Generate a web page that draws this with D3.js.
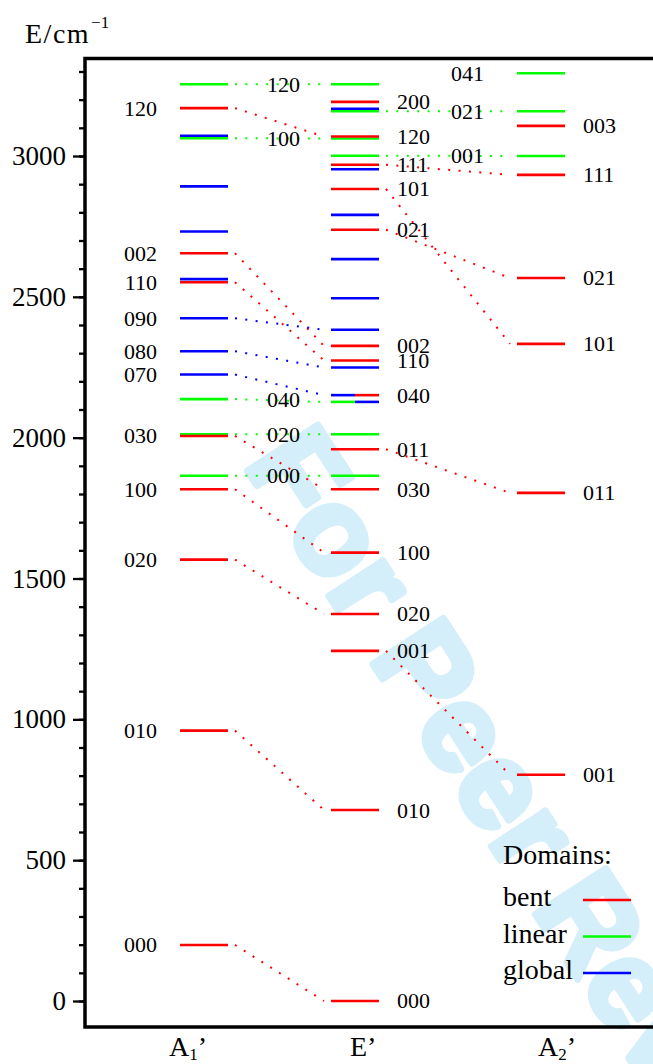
<!DOCTYPE html>
<html><head><meta charset="utf-8">
<script src="https://cdn.jsdelivr.net/npm/d3@7"></script>
<style>body{margin:0;background:#fff;} svg{display:block;}</style>
</head><body>
<svg id="chart" width="653" height="1064"></svg>
<script>
// ---------- data ----------
const categories = ["A1'", "E'", "A2'"];
const domainNames = ["bent", "linear", "global"];
const domainColors = ["#ff0000", "#00ff00", "#0000ff"];

// levels: [energy, domain, label, labelSide, half]
const levelsA1 = [
  [3255, "linear", "120", "mid"],
  [3170, "bent", "120", "left"],
  [3072, "global"],
  [3063, "linear", "100", "mid"],
  [2892, "global"],
  [2732, "global"],
  [2655, "bent", "002", "left"],
  [2563, "global"],
  [2552, "bent", "110", "left"],
  [2424, "global", "090", "left"],
  [2307, "global", "080", "left"],
  [2224, "global", "070", "left"],
  [2137, "linear", "040", "mid"],
  [2012, "linear", "020", "mid"],
  [2006, "bent", "030", "left"],
  [1865, "linear", "000", "mid"],
  [1817, "bent", "100", "left"],
  [1567, "bent", "020", "left"],
  [960, "bent", "010", "left"],
  [199, "bent", "000", "left"]
];
const levelsE = [
  [3255, "linear"],
  [3192, "bent", "200", "right"],
  [3168, "global"],
  [3159, "linear"],
  [3062, "linear"],
  [3069, "bent", "120", "right"],
  [3001, "linear"],
  [2969, "bent", "111", "right"],
  [2953, "global"],
  [2883, "bent", "101", "right"],
  [2791, "global"],
  [2738, "bent", "021", "right"],
  [2634, "global"],
  [2495, "global"],
  [2383, "global"],
  [2326, "bent", "002", "right"],
  [2274, "bent", "110", "right"],
  [2249, "global"],
  [2151, "global", "", "", "L"],
  [2151, "bent", "040", "right", "R"],
  [2127, "linear", "", "", "L"],
  [2127, "global", "", "", "R"],
  [2012, "linear"],
  [1959, "bent", "011", "right"],
  [1865, "linear"],
  [1817, "bent", "030", "right"],
  [1592, "bent", "100", "right"],
  [1374, "bent", "020", "right"],
  [1243, "bent", "001", "right"],
  [678, "bent", "010", "right"],
  [0, "bent", "000", "right"]
];
const levelsA2 = [
  [3294, "linear", "041", "left"],
  [3159, "linear", "021", "left"],
  [3107, "bent", "003", "right"],
  [3000, "linear", "001", "left"],
  [2933, "bent", "111", "right"],
  [2567, "bent", "021", "right"],
  [2333, "bent", "101", "right"],
  [1804, "bent", "011", "right"],
  [803, "bent", "001", "right"]
];
// correlations: [fromEnergy, toEnergy, domain]
const linksA1toE = [
  [3255, 3255, "linear"], [3170, 3069, "bent"], [3063, 3062, "linear"],
  [2655, 2326, "bent"], [2552, 2274, "bent"], [2424, 2383, "global"],
  [2307, 2249, "global"], [2224, 2151, "global"], [2137, 2127, "linear"],
  [2012, 2012, "linear"], [2006, 1817, "bent"], [1865, 1865, "linear"],
  [1817, 1592, "bent"], [1567, 1374, "bent"], [960, 678, "bent"], [199, 0, "bent"]
];
const linksEtoA2 = [
  [3159, 3159, "linear"], [3001, 3000, "linear"], [2969, 2933, "bent"],
  [2883, 2333, "bent"], [2738, 2567, "bent"], [1959, 1804, "bent"], [1243, 803, "bent"]
];
const majorTicks = [0, 500, 1000, 1500, 2000, 2500, 3000];
const minorTicks = [0,100,200,300,400,500,600,700,800,900,1000,1100,1200,1300,1400,1500,1600,1700,1800,1900,2000,2100,2200,2300,2400,2500,2600,2700,2800,2900,3000,3100,3200,3300];
const legendTitle = "Domains:";
const watermarkText = "For Peer Review";

// ---------- layout ----------
const svg = d3.select("#chart");
const serif = "'Liberation Serif','Times New Roman',serif";
const y = d3.scaleLinear().domain([0, 3000]).range([1001, 156]);
const colX = d3.scaleOrdinal().domain(categories).range([180, 331, 517]);
const catLabelX = d3.scaleOrdinal().domain(categories).range([169, 350, 538]);
const leftGap = d3.scaleOrdinal().domain(categories).range([23, 0, 33]);
const barW = 48;
const color = d3.scaleOrdinal().domain(domainNames).range(domainColors);
const frame = {left: 85, top: 58.5, bottom: 1027, right: 700};

// watermark
svg.append("text")
  .attr("transform", "translate(243,464) rotate(57)")
  .attr("font-family", "'Liberation Sans',Arial,sans-serif")
  .attr("font-weight", "bold")
  .attr("font-size", 122)
  .attr("fill", "#d4eefa")
  .attr("stroke", "#d4eefa")
  .attr("stroke-width", 7)
  .attr("stroke-linejoin", "round")
  .text(watermarkText);

// frame
svg.append("path")
  .attr("d", `M${frame.right},${frame.top}H${frame.left}V${frame.bottom}H${frame.right}`)
  .attr("fill", "none").attr("stroke", "#000").attr("stroke-width", 3.5);

// axes
const gMinor = svg.append("g").attr("transform", `translate(${frame.left},0)`)
  .call(d3.axisLeft(y).tickValues(minorTicks).tickSize(6).tickFormat(""));
const gMajor = svg.append("g").attr("transform", `translate(${frame.left},0)`)
  .call(d3.axisLeft(y).tickValues(majorTicks).tickSize(12).tickPadding(7).tickFormat(d3.format("d")));
[gMinor, gMajor].forEach(g => {
  g.select(".domain").remove();
  g.selectAll(".tick line").attr("stroke", "#000").attr("stroke-width", 2.3);
});
gMajor.selectAll(".tick text").attr("font-family", serif).attr("font-size", 27).attr("fill", "#000");

// axis title
const title = svg.append("text").attr("x", 25).attr("y", 43)
  .attr("font-family", serif).attr("font-size", 28).attr("fill", "#000");
title.append("tspan").attr("letter-spacing", 1.5).text("E/cm");
title.append("tspan").attr("font-size", 17).attr("dx", 1).attr("dy", -15).text("\u22121");

// category labels
categories.forEach(c => {
  const t = svg.append("text").attr("x", catLabelX(c)).attr("y", 1056)
    .attr("font-family", serif).attr("font-size", 28).attr("fill", "#000");
  const base = c.replace("'", "");
  t.append("tspan").text(base[0]);
  if (base.length > 1) {
    t.append("tspan").attr("font-size", 17).attr("dy", 4).text(base.slice(1));
    t.append("tspan").attr("dy", -4).text("\u2019");
  } else {
    t.append("tspan").text("\u2019");
  }
});

// correlation lines
function drawLinks(links, fromCat, toCat) {
  svg.append("g").selectAll("line").data(links).join("line")
    .attr("x1", colX(fromCat) + barW + 7)
    .attr("x2", colX(toCat) - 7)
    .attr("y1", d => y(d[0]))
    .attr("y2", d => y(d[1]))
    .attr("stroke", d => color(d[2]))
    .attr("stroke-width", 2)
    .attr("stroke-dasharray", "2,8.4");
}
drawLinks(linksA1toE, categories[0], categories[1]);
drawLinks(linksEtoA2, categories[1], categories[2]);

// levels
const columns = [[categories[0], levelsA1], [categories[1], levelsE], [categories[2], levelsA2]];
columns.forEach(([cat, levels]) => {
  const g = svg.append("g");
  g.selectAll("line").data(levels).join("line")
    .attr("x1", d => colX(cat) + (d[4] === "R" ? barW / 2 : 0))
    .attr("x2", d => colX(cat) + (d[4] === "L" ? barW / 2 : barW))
    .attr("y1", d => y(d[0])).attr("y2", d => y(d[0]))
    .attr("stroke", d => color(d[1]))
    .attr("stroke-width", 2.6);
});

// level labels
columns.forEach(([cat, levels], i) => {
  const labelled = levels.filter(d => d[2]);
  svg.append("g").selectAll("text").data(labelled).join("text")
    .attr("font-family", serif).attr("font-size", 22).attr("fill", "#000")
    .attr("y", d => y(d[0])).attr("dy", "0.34em")
    .attr("text-anchor", d => d[3] === "left" ? "end" : d[3] === "mid" ? "middle" : "start")
    .attr("x", d => {
      if (d[3] === "left") return colX(cat) - leftGap(cat);
      if (d[3] === "right") return colX(cat) + barW + 18;
      return (colX(cat) + barW + colX(categories[i + 1])) / 2 + 4;
    })
    .text(d => d[2]);
});

// legend
svg.append("text").attr("x", 503).attr("y", 864)
  .attr("font-family", serif).attr("font-size", 28).attr("fill", "#000").text(legendTitle);
const legY = d3.scalePoint().domain(domainNames).range([900, 973]);
const leg = svg.append("g").selectAll("g").data(domainNames).join("g");
leg.append("text").attr("x", 503).attr("y", d => legY(d) + 6)
  .attr("font-family", serif).attr("font-size", 28).attr("fill", "#000").text(d => d);
leg.append("line").attr("x1", 583).attr("x2", 631)
  .attr("y1", d => legY(d)).attr("y2", d => legY(d))
  .attr("stroke", d => color(d)).attr("stroke-width", 2.6);
</script>
</body></html>
